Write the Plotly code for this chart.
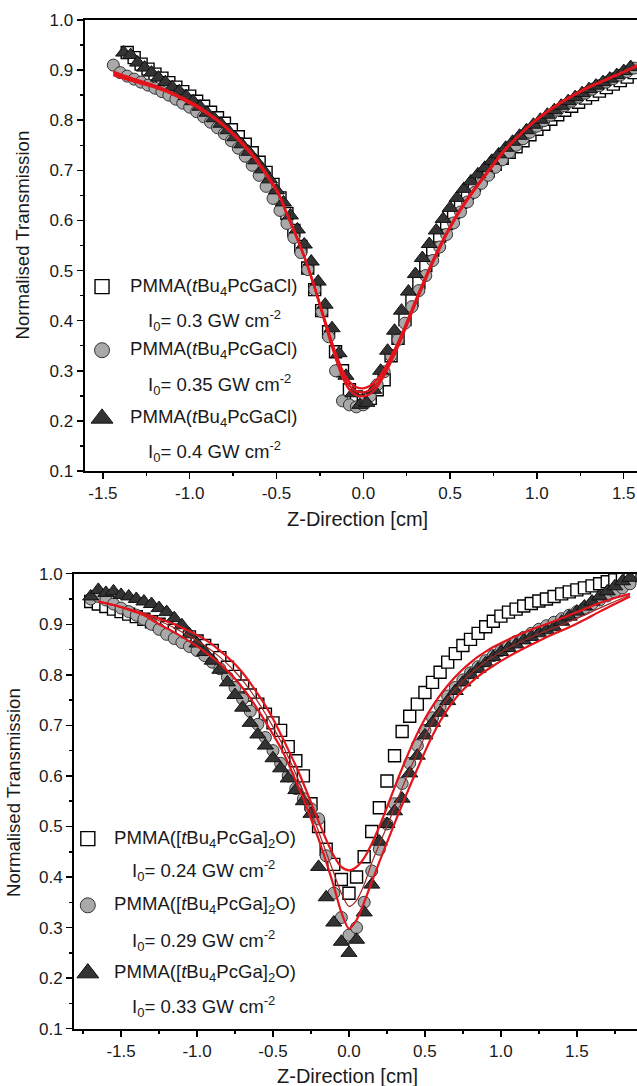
import plotly.graph_objects as go

W, H = 637, 1086

# ---------------- TOP PANEL DATA (tBu4PcGaCl) ----------------
TOP_Z_A = [-1.44, -1.40, -1.36, -1.32, -1.28, -1.24, -1.20, -1.16, -1.12, -1.08,
           -1.04, -1.00, -0.96, -0.92, -0.88, -0.84, -0.80, -0.76, -0.72, -0.68,
           -0.64, -0.60, -0.56, -0.52, -0.48, -0.44, -0.40, -0.36, -0.32, -0.28,
           -0.24, -0.20, -0.16, -0.12, -0.08, -0.04, 0.00, 0.04, 0.08, 0.12,
           0.16, 0.20, 0.24, 0.28, 0.32, 0.36, 0.40, 0.44, 0.48, 0.52,
           0.56, 0.60, 0.64, 0.68, 0.72, 0.76, 0.80, 0.84, 0.88, 0.92,
           0.96, 1.00, 1.04, 1.08, 1.12, 1.16, 1.20, 1.24, 1.28, 1.32,
           1.36, 1.40, 1.44, 1.48, 1.52, 1.56]
TOP_SQUARES = [None, None, 0.935, 0.925, 0.912, 0.902, 0.892, 0.884, 0.875, 0.866,
               0.857, 0.848, 0.838, 0.828, 0.816, 0.805, 0.794, 0.781, 0.767, 0.752,
               0.735, 0.716, 0.696, 0.672, 0.645, 0.614, 0.580, 0.548, 0.505, 0.462,
               0.420, 0.378, 0.338, 0.300, 0.262, 0.248, 0.240, 0.245, 0.262, 0.282,
               0.330, 0.365, 0.402, 0.440, 0.476, 0.510, 0.541, 0.569, 0.594, 0.616,
               0.636, 0.654, 0.670, 0.685, 0.699, 0.712, 0.724, 0.736, 0.747, 0.759,
               0.771, 0.782, 0.792, 0.802, 0.811, 0.820, 0.828, 0.836, 0.844, 0.851,
               0.858, 0.865, 0.872, 0.879, 0.886, 0.895]
TOP_CIRCLES = [0.910, 0.895, 0.888, 0.882, 0.876, 0.870, 0.864, 0.857, 0.850, 0.842,
               0.834, 0.826, 0.817, 0.807, 0.796, 0.785, 0.773, 0.759, 0.744, 0.728,
               0.710, 0.690, 0.668, 0.644, 0.620, 0.594, 0.566, 0.536, 0.502, 0.462,
               0.418, 0.368, 0.300, 0.240, 0.232, 0.228, 0.232, 0.250, 0.272, 0.298,
               0.330, 0.362, 0.395, 0.428, 0.460, 0.490, 0.520, 0.547, 0.572, 0.595,
               0.617, 0.637, 0.656, 0.674, 0.690, 0.706, 0.721, 0.736, 0.750, 0.763,
               0.776, 0.788, 0.799, 0.810, 0.820, 0.829, 0.838, 0.846, 0.854, 0.862,
               0.869, 0.876, 0.883, 0.890, 0.897, 0.904]
TOP_Z_B = [-1.38, -1.34, -1.30, -1.26, -1.22, -1.18, -1.14, -1.10, -1.06, -1.02,
           -0.98, -0.94, -0.90, -0.86, -0.82, -0.78, -0.74, -0.70, -0.66, -0.62,
           -0.58, -0.54, -0.50, -0.46, -0.42, -0.38, -0.34, -0.30, -0.26, -0.22,
           -0.18, -0.14, -0.10, -0.06, -0.02, 0.02, 0.06, 0.10, 0.14, 0.18,
           0.22, 0.26, 0.30, 0.34, 0.38, 0.42, 0.46, 0.50, 0.54, 0.58,
           0.62, 0.66, 0.70, 0.74, 0.78, 0.82, 0.86, 0.90, 0.94, 0.98,
           1.02, 1.06, 1.10, 1.14, 1.18, 1.22, 1.26, 1.30, 1.34, 1.38,
           1.42, 1.46, 1.50, 1.54, 1.58, 1.62]
TOP_TRIANGLES = [0.935, 0.930, 0.915, 0.905, 0.895, 0.885, 0.876, 0.866, 0.858, 0.848,
                 0.838, 0.827, 0.815, 0.804, 0.793, 0.780, 0.766, 0.752, 0.737, 0.720,
                 0.702, 0.682, 0.660, 0.636, 0.610, 0.582, 0.552, 0.518, 0.478, 0.432,
                 0.385, 0.335, 0.290, 0.255, 0.232, 0.236, 0.262, 0.300, 0.340, 0.380,
                 0.420, 0.458, 0.493, 0.525, 0.553, 0.580, 0.603, 0.625, 0.645, 0.663,
                 0.678, 0.692, 0.705, 0.719, 0.732, 0.745, 0.757, 0.769, 0.780, 0.791,
                 0.801, 0.811, 0.820, 0.829, 0.838, 0.846, 0.854, 0.862, 0.869, 0.876,
                 0.883, 0.890, 0.898, 0.906, 0.914, 0.924]
TOP_FIT_Z = [-1.44, -1.36, -1.28, -1.20, -1.12, -1.04, -0.96, -0.88, -0.80, -0.72,
             -0.64, -0.56, -0.48,
             -0.44, -0.40, -0.36, -0.32, -0.28, -0.24, -0.20, -0.16, -0.12, -0.08,
             -0.04, 0.00, 0.04, 0.08, 0.12, 0.16, 0.20, 0.24, 0.28, 0.32,
             0.36, 0.40, 0.44, 0.48,
             0.56, 0.64, 0.72, 0.80, 0.88, 0.96, 1.04, 1.12, 1.20, 1.28,
             1.36, 1.44, 1.52, 1.60]
TOP_FIT_1 = [0.893, 0.884, 0.876, 0.867, 0.857, 0.843, 0.828, 0.810, 0.789, 0.762,
             0.731, 0.693, 0.647,
             0.612, 0.580, 0.546, 0.508, 0.466, 0.420, 0.374, 0.330, 0.294, 0.270,
             0.259, 0.257, 0.262, 0.275, 0.296, 0.323, 0.352, 0.385, 0.420, 0.454,
             0.486, 0.518, 0.547, 0.574,
             0.622, 0.662, 0.698, 0.735, 0.764, 0.790, 0.812, 0.831, 0.848, 0.863,
             0.875, 0.887, 0.899, 0.912]
TOP_FIT_2 = [0.897, 0.887, 0.878, 0.869, 0.858, 0.845, 0.830, 0.811, 0.790, 0.764,
             0.733, 0.695, 0.649,
             0.614, 0.582, 0.547, 0.508, 0.465, 0.418, 0.370, 0.325, 0.287, 0.262,
             0.251, 0.249, 0.254, 0.268, 0.290, 0.318, 0.348, 0.381, 0.416, 0.450,
             0.483, 0.515, 0.544, 0.572,
             0.620, 0.660, 0.697, 0.733, 0.763, 0.789, 0.811, 0.830, 0.847, 0.862,
             0.875, 0.887, 0.900, 0.914]
TOP_FIT_3 = [0.890, 0.881, 0.873, 0.865, 0.855, 0.841, 0.826, 0.808, 0.787, 0.760,
             0.729, 0.691, 0.646,
             0.611, 0.579, 0.545, 0.508, 0.467, 0.422, 0.378, 0.336, 0.301, 0.278,
             0.267, 0.265, 0.270, 0.283, 0.303, 0.329, 0.357, 0.389, 0.423, 0.457,
             0.489, 0.520, 0.549, 0.576,
             0.624, 0.664, 0.700, 0.736, 0.765, 0.791, 0.813, 0.832, 0.849, 0.864,
             0.876, 0.888, 0.899, 0.911]

# ---------------- BOTTOM PANEL DATA ([tBu4PcGa]2O) ----------------
BOT_Z = [-1.70, -1.65, -1.60, -1.55, -1.50, -1.45, -1.40, -1.35, -1.30, -1.25,
         -1.20, -1.15, -1.10, -1.05, -1.00, -0.95, -0.90, -0.85, -0.80, -0.75,
         -0.70, -0.65, -0.60, -0.55, -0.50, -0.45, -0.40, -0.35, -0.30, -0.25,
         -0.20, -0.15, -0.10, -0.05, 0.00, 0.05, 0.10, 0.15, 0.20, 0.25,
         0.30, 0.35, 0.40, 0.45, 0.50, 0.55, 0.60, 0.65, 0.70, 0.75,
         0.80, 0.85, 0.90, 0.95, 1.00, 1.05, 1.10, 1.15, 1.20, 1.25,
         1.30, 1.35, 1.40, 1.45, 1.50, 1.55, 1.60, 1.65, 1.70, 1.75,
         1.80, 1.85, 1.90]
BOT_SQUARES = [0.945, 0.940, 0.935, 0.930, 0.925, 0.920, 0.915, 0.910, 0.905, 0.900,
               0.894, 0.888, 0.882, 0.875, 0.867, 0.858, 0.848, 0.834, 0.815, 0.797,
               0.778, 0.760, 0.742, 0.722, 0.705, 0.690, 0.658, 0.630, 0.600, 0.545,
               0.500, 0.455, 0.425, 0.395, 0.368, 0.400, 0.440, 0.490, 0.537, 0.590,
               0.640, 0.688, 0.718, 0.742, 0.765, 0.785, 0.805, 0.825, 0.842, 0.858,
               0.870, 0.882, 0.895, 0.906, 0.916, 0.924, 0.930, 0.936, 0.941, 0.946,
               0.950, 0.955, 0.960, 0.964, 0.968, 0.972, 0.976, 0.980, 0.984, 0.988,
               0.992, 0.996, 0.999]
BOT_CIRCLES = [0.950, 0.955, 0.948, 0.940, 0.932, 0.925, 0.918, 0.910, 0.900, 0.890,
               0.880, 0.872, 0.864, 0.856, 0.848, 0.838, 0.825, 0.812, 0.795, 0.775,
               0.752, 0.728, 0.702, 0.676, 0.650, 0.625, 0.600, 0.575, 0.555, 0.535,
               0.515, 0.442, 0.368, 0.320, 0.285, 0.300, 0.350, 0.412, 0.455, 0.505,
               0.545, 0.585, 0.625, 0.660, 0.690, 0.715, 0.738, 0.758, 0.775, 0.790,
               0.804, 0.816, 0.828, 0.838, 0.848, 0.857, 0.866, 0.874, 0.882, 0.890,
               0.897, 0.904, 0.911, 0.918, 0.925, 0.932, 0.940, 0.948, 0.956, 0.964,
               0.972, 0.980, 0.988]
BOT_TRIANGLES = [0.955, 0.968, 0.962, 0.965, 0.958, 0.955, 0.950, 0.945, 0.940, 0.932,
                 0.924, 0.912, 0.898, 0.880, 0.862, 0.845, 0.828, 0.810, 0.785, 0.760,
                 0.735, 0.705, 0.682, 0.660, 0.635, 0.615, 0.595, 0.572, 0.550, 0.525,
                 0.420, 0.360, 0.310, 0.272, 0.250, 0.276, 0.330, 0.385, 0.470, 0.505,
                 0.530, 0.555, 0.605, 0.640, 0.680, 0.705, 0.725, 0.748, 0.768, 0.785,
                 0.800, 0.812, 0.823, 0.835, 0.845, 0.853, 0.860, 0.868, 0.875, 0.882,
                 0.888, 0.894, 0.905, 0.915, 0.925, 0.935, 0.945, 0.955, 0.965, 0.975,
                 0.985, 0.992, 0.998]
BOT_FIT_Z = [-1.65, -1.55, -1.45, -1.35, -1.25, -1.15, -1.05, -0.95, -0.85, -0.75,
             -0.70, -0.65, -0.60, -0.55, -0.50, -0.45, -0.40, -0.35, -0.30, -0.25,
             -0.20, -0.15, -0.10, -0.05, 0.00, 0.05, 0.10, 0.15, 0.20, 0.25,
             0.30, 0.35, 0.40, 0.45, 0.50, 0.55, 0.60, 0.65, 0.70, 0.75,
             0.80, 0.85, 0.90, 0.95,
             1.05, 1.15, 1.25, 1.35, 1.45, 1.55, 1.65, 1.75, 1.85]
BOT_FIT_SQ = [0.945, 0.938, 0.930, 0.921, 0.911, 0.900, 0.886, 0.870, 0.848, 0.821,
              0.804, 0.784, 0.762, 0.739, 0.713, 0.683, 0.652, 0.620, 0.585, 0.548,
              0.510, 0.474, 0.442, 0.420, 0.413, 0.420, 0.438, 0.466, 0.500, 0.538,
              0.577, 0.615, 0.651, 0.684, 0.713, 0.738, 0.760, 0.779, 0.796, 0.811,
              0.824, 0.836, 0.846, 0.855,
              0.870, 0.883, 0.895, 0.906, 0.918, 0.930, 0.942, 0.952, 0.960]
BOT_FIT_CI = [0.945, 0.938, 0.930, 0.920, 0.907, 0.893, 0.876, 0.858, 0.835, 0.806,
              0.789, 0.769, 0.747, 0.723, 0.697, 0.669, 0.638, 0.604, 0.568, 0.530,
              0.490, 0.449, 0.408, 0.368, 0.342, 0.354, 0.385, 0.428, 0.465, 0.500,
              0.538, 0.576, 0.612, 0.646, 0.678, 0.707, 0.732, 0.754, 0.772, 0.788,
              0.802, 0.815, 0.826, 0.836,
              0.853, 0.868, 0.881, 0.893, 0.905, 0.918, 0.932, 0.945, 0.958]
BOT_FIT_TR = [0.945, 0.938, 0.929, 0.918, 0.900, 0.884, 0.866, 0.846, 0.822, 0.792,
              0.774, 0.754, 0.731, 0.707, 0.682, 0.656, 0.625, 0.590, 0.555, 0.515,
              0.475, 0.430, 0.382, 0.330, 0.298, 0.315, 0.350, 0.390, 0.430, 0.468,
              0.506, 0.543, 0.579, 0.614, 0.648, 0.680, 0.708, 0.732, 0.753, 0.770,
              0.784, 0.797, 0.808, 0.818,
              0.836, 0.852, 0.867, 0.881, 0.894, 0.909, 0.925, 0.940, 0.955]

# ---------------- TICKS & LABELS ----------------
X_TICKS = [-1.5, -1.0, -0.5, 0.0, 0.5, 1.0, 1.5]
X_TICK_LABELS = ["-1.5", "-1.0", "-0.5", "0.0", "0.5", "1.0", "1.5"]
Y_TICKS = [0.1, 0.2, 0.3, 0.4, 0.5, 0.6, 0.7, 0.8, 0.9, 1.0]
Y_TICK_LABELS = ["0.1", "0.2", "0.3", "0.4", "0.5", "0.6", "0.7", "0.8", "0.9", "1.0"]
X_TITLE = "Z-Direction [cm]"
Y_TITLE = "Normalised Transmission"

TOP_NAMES = ["PMMA(<i>t</i>Bu<sub>4</sub>PcGaCl)"] * 3
TOP_INTENS = ["I<sub>0</sub>= 0.3 GW cm<sup>-2</sup>",
              "I<sub>0</sub>= 0.35 GW cm<sup>-2</sup>",
              "I<sub>0</sub>= 0.4 GW cm<sup>-2</sup>"]
BOT_NAMES = ["PMMA([<i>t</i>Bu<sub>4</sub>PcGa]<sub>2</sub>O)"] * 3
BOT_INTENS = ["I<sub>0</sub>= 0.24 GW cm<sup>-2</sup>",
              "I<sub>0</sub>= 0.29 GW cm<sup>-2</sup>",
              "I<sub>0</sub>= 0.33 GW cm<sup>-2</sup>"]

# legend placement (data units of each panel)
TOP_LEG_KEY_X = -1.505
TOP_LEG_TEXT_X = -1.353
TOP_LEG_INT_X = -1.251
TOP_LEG_ROWS = [0.468, 0.341, 0.205]
TOP_LEG_INT_ROWS = [0.401, 0.272, 0.138]
BOT_LEG_KEY_X = -1.719
BOT_LEG_TEXT_X = -1.560
BOT_LEG_INT_X = -1.439
BOT_LEG_ROWS = [0.476, 0.344, 0.210]
BOT_LEG_INT_ROWS = [0.412, 0.275, 0.144]

FONT = "Liberation Sans, Arial, Helvetica, sans-serif"
RED = "#e3141b"
TXT = "#1a1a1a"

SQ = dict(symbol="square", size=12, color="white", line=dict(color="black", width=1.4))
CI = dict(symbol="circle", size=12, color="#a9a9a9", line=dict(color="#333333", width=1))
TR = dict(symbol="triangle-up", size=14, color="#333333", line=dict(color="#111111", width=1))

fig = go.Figure()


def add_markers(x, y, marker, xa, ya):
    fig.add_trace(go.Scatter(x=x, y=y, mode="markers", marker=marker,
                             xaxis=xa, yaxis=ya, showlegend=False, hoverinfo="skip"))


def add_fit(x, y, xa, ya, color=RED, width=2.2):
    fig.add_trace(go.Scatter(x=x, y=y, mode="lines",
                             line=dict(color=color, width=width, shape="spline", smoothing=0.8),
                             xaxis=xa, yaxis=ya, showlegend=False, hoverinfo="skip"))


# top panel
add_markers(TOP_Z_A, TOP_SQUARES, SQ, "x", "y")
add_markers(TOP_Z_A, TOP_CIRCLES, CI, "x", "y")
add_markers(TOP_Z_B, TOP_TRIANGLES, TR, "x", "y")
add_fit(TOP_FIT_Z, TOP_FIT_1, "x", "y")
add_fit(TOP_FIT_Z, TOP_FIT_2, "x", "y")
add_fit(TOP_FIT_Z, TOP_FIT_3, "x", "y")

# bottom panel
add_markers(BOT_Z, BOT_SQUARES, SQ, "x2", "y2")
add_markers(BOT_Z, BOT_CIRCLES, CI, "x2", "y2")
add_markers(BOT_Z, BOT_TRIANGLES, TR, "x2", "y2")
add_fit(BOT_FIT_Z, BOT_FIT_SQ, "x2", "y2")
add_fit(BOT_FIT_Z, BOT_FIT_CI, "x2", "y2", color="#a02828", width=1.2)
add_fit(BOT_FIT_Z, BOT_FIT_TR, "x2", "y2")

# legend keys
LEG_SQ = dict(SQ, size=14)
LEG_CI = dict(CI, size=15)
LEG_TR = dict(TR, size=19)
for mk, yv in zip([LEG_SQ, LEG_CI, LEG_TR], TOP_LEG_ROWS):
    fig.add_trace(go.Scatter(x=[TOP_LEG_KEY_X], y=[yv], mode="markers", marker=mk,
                             xaxis="x", yaxis="y", showlegend=False, hoverinfo="skip",
                             cliponaxis=False))
for mk, yv in zip([LEG_SQ, LEG_CI, LEG_TR], BOT_LEG_ROWS):
    fig.add_trace(go.Scatter(x=[BOT_LEG_KEY_X], y=[yv], mode="markers", marker=mk,
                             xaxis="x2", yaxis="y2", showlegend=False, hoverinfo="skip",
                             cliponaxis=False))

leg_font = dict(family=FONT, size=18.6, color=TXT)
annotations = []
for name, yv in zip(TOP_NAMES, TOP_LEG_ROWS):
    annotations.append(dict(x=TOP_LEG_TEXT_X, y=yv, xref="x", yref="y", text=name,
                            showarrow=False, xanchor="left", yanchor="middle", font=leg_font))
for txt, yv in zip(TOP_INTENS, TOP_LEG_INT_ROWS):
    annotations.append(dict(x=TOP_LEG_INT_X, y=yv, xref="x", yref="y", text=txt,
                            showarrow=False, xanchor="left", yanchor="middle", font=leg_font))
for name, yv in zip(BOT_NAMES, BOT_LEG_ROWS):
    annotations.append(dict(x=BOT_LEG_TEXT_X, y=yv, xref="x2", yref="y2", text=name,
                            showarrow=False, xanchor="left", yanchor="middle", font=leg_font))
for txt, yv in zip(BOT_INTENS, BOT_LEG_INT_ROWS):
    annotations.append(dict(x=BOT_LEG_INT_X, y=yv, xref="x2", yref="y2", text=txt,
                            showarrow=False, xanchor="left", yanchor="middle", font=leg_font))


def px(xp):
    return xp / W


def py(yp):
    return 1 - yp / H


xt_font = dict(family=FONT, size=20, color=TXT)
yt_font = dict(family=FONT, size=18.6, color=TXT)
annotations += [
    dict(x=px(357), y=py(519), xref="paper", yref="paper", text=X_TITLE, showarrow=False,
         xanchor="center", yanchor="middle", font=xt_font),
    dict(x=px(347), y=py(1076), xref="paper", yref="paper", text=X_TITLE, showarrow=False,
         xanchor="center", yanchor="middle", font=xt_font),
    dict(x=px(21.5), y=py(235), xref="paper", yref="paper", text=Y_TITLE, showarrow=False,
         textangle=-90, xanchor="center", yanchor="middle", font=yt_font),
    dict(x=px(13), y=py(793), xref="paper", yref="paper", text=Y_TITLE, showarrow=False,
         textangle=-90, xanchor="center", yanchor="middle", font=yt_font),
]

tickfont = dict(family=FONT, size=17, color=TXT)
common = dict(showline=True, linecolor="black", linewidth=2, ticks="outside", ticklen=6,
              tickwidth=1.5, tickcolor="black", showgrid=False, zeroline=False,
              tickfont=tickfont, tickmode="array", fixedrange=True, automargin=False)
minor_x = dict(ticks="outside", ticklen=3, tickwidth=1.5, tickcolor="black",
               tickmode="linear", tick0=0, dtick=0.25)
minor_y = dict(ticks="outside", ticklen=3, tickwidth=1.5, tickcolor="black",
               tickmode="linear", tick0=0, dtick=0.05)

fig.update_layout(
    width=W, height=H, autosize=False,
    margin=dict(l=0, r=0, t=0, b=0, pad=0, autoexpand=False),
    paper_bgcolor="white", plot_bgcolor="white",
    showlegend=False,
    annotations=annotations,
    xaxis=dict(common, domain=[px(84.5), 1.0], range=[-1.606, 1.5765], anchor="y",
               tickvals=X_TICKS, ticktext=X_TICK_LABELS, mirror=True, minor=minor_x),
    yaxis=dict(common, domain=[py(471), py(20)], range=[0.1, 1.0], anchor="x",
               tickvals=Y_TICKS, ticktext=Y_TICK_LABELS, minor=minor_y),
    xaxis2=dict(common, domain=[px(74), 1.0], range=[-1.810, 1.896], anchor="y2",
                tickvals=X_TICKS, ticktext=X_TICK_LABELS, mirror=True, minor=minor_x),
    yaxis2=dict(common, domain=[py(1028.7), py(573.7)], range=[0.1, 1.0], anchor="x2",
                tickvals=Y_TICKS, ticktext=Y_TICK_LABELS, minor=minor_y),
)

fig.write_html(
    "out.html",
    config={"displayModeBar": False, "staticPlot": True},
    post_script="document.body.style.margin='0px';document.body.style.overflow='hidden';",
)
